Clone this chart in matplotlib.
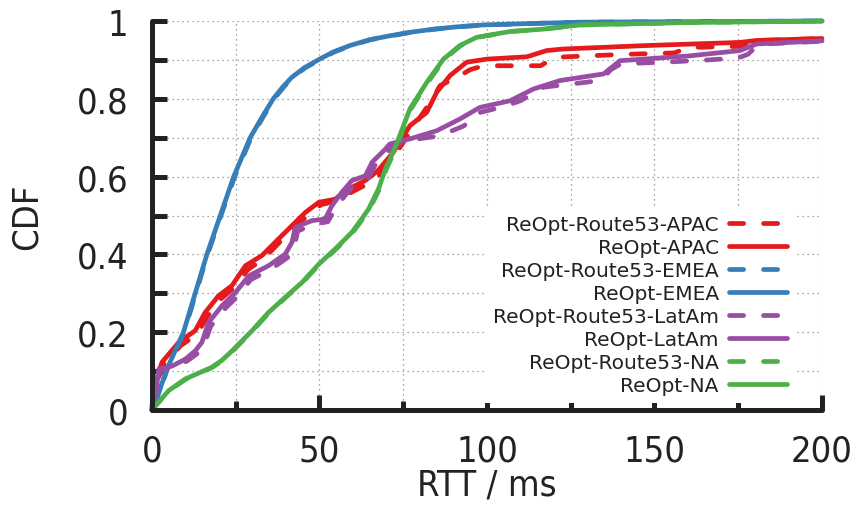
import matplotlib
matplotlib.use('Agg')
import matplotlib.pyplot as plt
from matplotlib.ticker import MultipleLocator, FuncFormatter

# CDF curves (RTT in ms, cumulative fraction)
apac_r53_x = [0, 0.3, 3.3, 8.5, 13.5, 16.5, 20.5, 24.5, 28.5, 33.5, 38.5, 42.5, 46.5, 50.5, 55.5, 58.5, 64.5, 68, 72.5, 79, 83, 86, 91, 95, 99, 116, 119, 121, 140, 156, 160, 176, 181, 200]
apac_r53_y = [0, 0.045, 0.115, 0.165, 0.195, 0.24, 0.285, 0.315, 0.36, 0.39, 0.435, 0.47, 0.5, 0.528, 0.538, 0.555, 0.582, 0.605, 0.655, 0.74, 0.79, 0.834, 0.855, 0.875, 0.885, 0.885, 0.9, 0.907, 0.914, 0.918, 0.932, 0.935, 0.95, 0.955]
apac_x = [0, 0.3, 3, 8, 12.9, 15.9, 19.9, 23.9, 27.9, 32.8, 37.8, 41.8, 45.8, 49.8, 54.7, 57.7, 63.7, 67.4, 72, 77, 82, 85, 89, 93.9, 99.9, 111.9, 117.8, 122.7, 147.7, 175.5, 180.5, 200]
apac_y = [0, 0.05, 0.123, 0.174, 0.204, 0.251, 0.294, 0.32, 0.371, 0.397, 0.44, 0.474, 0.508, 0.534, 0.542, 0.564, 0.59, 0.615, 0.662, 0.731, 0.765, 0.817, 0.86, 0.894, 0.902, 0.908, 0.924, 0.928, 0.937, 0.945, 0.95, 0.955]

emea_r53_x = [0, 1.6, 4.4, 9.6, 13.1, 16.6, 20.6, 24.7, 29.6, 33.3, 36.5, 39.3, 42, 45.8, 50, 54.3, 59.5, 65.3, 71.5, 77.3, 84.5, 91.3, 99.5, 115, 128, 150, 200]
emea_r53_y = [0, 0.03, 0.10, 0.20, 0.30, 0.40, 0.50, 0.60, 0.70, 0.755, 0.80, 0.83, 0.855, 0.88, 0.90, 0.92, 0.937, 0.952, 0.962, 0.971, 0.979, 0.985, 0.99, 0.994, 0.997, 0.998, 1.0]
emea_x = [0, 1.5, 4.2, 9.4, 12.9, 16.4, 20.4, 24.4, 29.3, 33, 36.2, 39, 41.7, 45.5, 49.6, 54, 59.1, 65, 71, 77, 84, 91, 99, 115, 128, 150, 200]
emea_y = [0, 0.03, 0.10, 0.20, 0.30, 0.40, 0.50, 0.60, 0.70, 0.755, 0.80, 0.83, 0.855, 0.88, 0.90, 0.92, 0.937, 0.952, 0.962, 0.971, 0.979, 0.985, 0.99, 0.994, 0.997, 0.998, 1.0]

latam_r53_x = [0, 1, 2, 6, 10.5, 13.5, 15.5, 17.5, 21.5, 25.5, 29.5, 35.5, 40.5, 42.5, 43.5, 48.5, 52.5, 54.5, 57.5, 60.5, 64.5, 66.5, 70.5, 72, 78, 86, 93, 98, 105, 110, 117, 125, 130, 134, 137, 140, 155, 166, 175, 178, 181, 200]
latam_r53_y = [0, 0.03, 0.10, 0.11, 0.126, 0.145, 0.165, 0.215, 0.258, 0.292, 0.335, 0.362, 0.392, 0.42, 0.46, 0.478, 0.484, 0.515, 0.55, 0.58, 0.595, 0.628, 0.665, 0.68, 0.695, 0.705, 0.73, 0.765, 0.78, 0.795, 0.83, 0.838, 0.843, 0.848, 0.875, 0.89, 0.895, 0.90, 0.905, 0.915, 0.94, 0.948]
latam_x = [0, 1, 2, 6, 10, 12.9, 14.9, 16.9, 20.9, 24.9, 28.9, 34.8, 39.8, 41.8, 42.8, 47.8, 51.7, 53.7, 56.7, 59.7, 63.7, 65.7, 69.7, 71, 77, 85, 91.9, 97.9, 106.9, 113.8, 121.8, 134.8, 139.7, 160, 175.5, 180.5, 200]
latam_y = [0, 0.03, 0.105, 0.113, 0.131, 0.152, 0.174, 0.225, 0.268, 0.302, 0.345, 0.371, 0.401, 0.431, 0.47, 0.487, 0.491, 0.525, 0.56, 0.59, 0.602, 0.637, 0.671, 0.684, 0.697, 0.718, 0.748, 0.778, 0.795, 0.825, 0.847, 0.864, 0.898, 0.91, 0.924, 0.941, 0.949]

na_r53_x = [0, 1.1, 5.1, 10.2, 18.1, 21.1, 24.1, 30.1, 35, 40, 45, 50, 55, 60, 62.8, 65, 68, 70, 72.9, 77.3, 82.3, 87.3, 92.2, 97.2, 107, 116.7, 121.8, 128, 160, 200]
na_r53_y = [0, 0.011, 0.05, 0.08, 0.11, 0.128, 0.152, 0.204, 0.251, 0.29, 0.328, 0.375, 0.414, 0.457, 0.49, 0.517, 0.57, 0.62, 0.675, 0.774, 0.842, 0.902, 0.937, 0.958, 0.973, 0.979, 0.984, 0.99, 0.996, 1.0]
na_x = [0, 1, 5, 10, 17.9, 20.9, 23.9, 29.9, 34.8, 39.8, 44.8, 49.8, 54.7, 59.7, 62.5, 64.7, 67.7, 69.7, 72.6, 77, 82, 87, 91.9, 96.9, 106.9, 116.7, 121.8, 128, 160, 200]
na_y = [0, 0.011, 0.05, 0.08, 0.11, 0.128, 0.152, 0.204, 0.251, 0.29, 0.328, 0.375, 0.414, 0.457, 0.49, 0.517, 0.57, 0.62, 0.675, 0.774, 0.842, 0.902, 0.937, 0.958, 0.973, 0.979, 0.984, 0.99, 0.996, 1.0]

red, blue, purple, green = '#e41a1c', '#377eb8', '#984ea3', '#4daf4a'
dark = '#222222'

series = [
    ('ReOpt-Route53-APAC', apac_r53_x, apac_r53_y, red, True),
    ('ReOpt-APAC', apac_x, apac_y, red, False),
    ('ReOpt-Route53-EMEA', emea_r53_x, emea_r53_y, blue, True),
    ('ReOpt-EMEA', emea_x, emea_y, blue, False),
    ('ReOpt-Route53-LatAm', latam_r53_x, latam_r53_y, purple, True),
    ('ReOpt-LatAm', latam_x, latam_y, purple, False),
    ('ReOpt-Route53-NA', na_r53_x, na_r53_y, green, True),
    ('ReOpt-NA', na_x, na_y, green, False),
]

plt.rcParams['font.family'] = 'DejaVu Sans'
plt.rcParams['font.stretch'] = 'condensed'

fig = plt.figure(figsize=(8.61, 5.06), dpi=100)
ax = fig.add_axes([0.1765, 0.1877, 0.9547 - 0.1765, 0.9565 - 0.1877])

for label, xs, ys, col, dashed in series:
    if dashed:
        ax.plot(xs, ys, color=col, lw=3.4, dashes=(3, 4.2), dash_capstyle='round',
                solid_joinstyle='round', label=label, clip_on=False)
    else:
        ax.plot(xs, ys, color=col, lw=3.4, solid_capstyle='round',
                solid_joinstyle='round', label=label, clip_on=False)

ax.set_xlim(0, 200)
ax.set_ylim(0, 1)
ax.xaxis.set_major_locator(MultipleLocator(50))
ax.xaxis.set_minor_locator(MultipleLocator(25))
ax.yaxis.set_major_locator(MultipleLocator(0.2))
ax.yaxis.set_minor_locator(MultipleLocator(0.1))
ax.yaxis.set_major_formatter(FuncFormatter(lambda v, p: '%g' % round(v, 2)))

ax.grid(True, which='both', color='#888888', lw=0.9, linestyle=(0, (1, 3)))
ax.set_axisbelow(True)

for s in ['top', 'right']:
    ax.spines[s].set_visible(False)
for s in ['left', 'bottom']:
    ax.spines[s].set_linewidth(3.6)
    ax.spines[s].set_color(dark)
    ax.spines[s].set_capstyle('round')

ax.tick_params(axis='both', which='both', direction='in', color=dark, width=3.6,
               labelsize=26, labelcolor=dark, pad=17)
ax.tick_params(axis='x', which='major', length=11)
ax.tick_params(axis='x', which='minor', length=6.5)
ax.tick_params(axis='y', which='both', length=11)

ax.set_xlabel('RTT / ms', fontsize=26, color=dark, labelpad=0)
ax.set_ylabel('CDF', fontsize=26, color=dark, labelpad=24)

leg = ax.legend(loc='lower right', bbox_to_anchor=(0.975, -0.008), markerfirst=False,
                prop={'family': 'DejaVu Sans', 'stretch': 'normal', 'size': 14.5},
                handlelength=2.9, handletextpad=0.5, labelspacing=0.2,
                borderpad=0.4, frameon=True, fancybox=False)
leg.get_frame().set_facecolor('white')
leg.get_frame().set_edgecolor('none')
leg.get_frame().set_alpha(1)
for t in leg.get_texts():
    t.set_color(dark)

fig.savefig('out.png', dpi=100)
